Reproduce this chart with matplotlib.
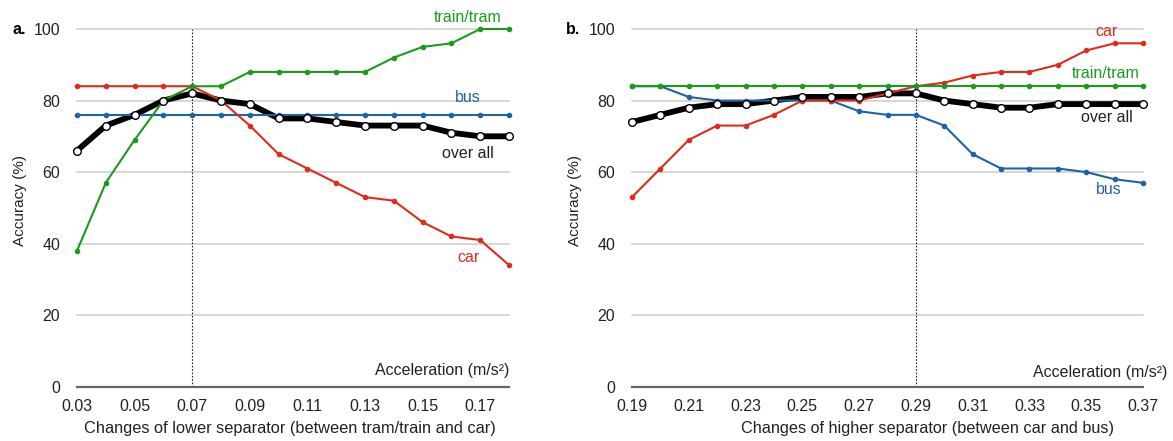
import matplotlib
matplotlib.use("Agg")
import matplotlib.pyplot as plt

plt.rcParams['font.family'] = ['Liberation Sans', 'DejaVu Sans']

# panel a: lower separator
x_a = [0.03, 0.04, 0.05, 0.06, 0.07, 0.08, 0.09, 0.10, 0.11, 0.12, 0.13, 0.14, 0.15, 0.16, 0.17, 0.18]
car_a = [84, 84, 84, 84, 84, 80, 73, 65, 61, 57, 53, 52, 46, 42, 41, 34]
train_a = [38, 57, 69, 80, 84, 84, 88, 88, 88, 88, 88, 92, 95, 96, 100, 100]
bus_a = [76] * 16
overall_a = [66, 73, 76, 80, 82, 80, 79, 75, 75, 74, 73, 73, 73, 71, 70, 70]
xticks_a = [0.03, 0.05, 0.07, 0.09, 0.11, 0.13, 0.15, 0.17]
sep_a = 0.07

# panel b: higher separator
x_b = [0.19, 0.20, 0.21, 0.22, 0.23, 0.24, 0.25, 0.26, 0.27, 0.28,
       0.29, 0.30, 0.31, 0.32, 0.33, 0.34, 0.35, 0.36, 0.37]
car_b = [53, 61, 69, 73, 73, 76, 80, 80, 80, 82, 84, 85, 87, 88, 88, 90, 94, 96, 96]
train_b = [84] * 19
bus_b = [84, 84, 81, 80, 80, 80, 80, 80, 77, 76, 76, 73, 65, 61, 61, 61, 60, 58, 57]
overall_b = [74, 76, 78, 79, 79, 80, 81, 81, 81, 82, 82, 80, 79, 78, 78, 79, 79, 79, 79]
xticks_b = [0.19, 0.21, 0.23, 0.25, 0.27, 0.29, 0.31, 0.33, 0.35, 0.37]
sep_b = 0.29

RED = '#dd2c1c'
GREEN = '#1a9b1a'
BLUE = '#1f62a6'

W, H = 1173, 441
fig = plt.figure(figsize=(W / 100, H / 100), dpi=100)


def px(x, y):
    return x / W, 1 - y / H


def setup(ax, xs, ticks, sep):
    ax.set_xlim(xs[0], xs[-1])
    ax.set_ylim(0, 100)
    for s in ['top', 'right', 'left']:
        ax.spines[s].set_visible(False)
    ax.spines['bottom'].set_color('#666666')
    ax.spines['bottom'].set_linewidth(1.6)
    ax.set_yticks([0, 20, 40, 60, 80, 100])
    ax.set_xticks(ticks)
    ax.set_xticklabels(['%.2f' % t for t in ticks])
    ax.tick_params(axis='y', length=0, pad=12, labelsize=11.5, colors='#222222')
    ax.tick_params(axis='x', length=0, pad=9, labelsize=11.5, colors='#222222')
    for g in [20, 40, 60, 80, 100]:
        ax.axhline(g, color='#cccccc', lw=1.1, zorder=0, clip_on=False)
    ax.plot([sep, sep], [0, 100], color='#222222', ls=(0, (1.5, 1.5)), lw=0.8, zorder=1)


def draw(ax, xs, car, train, bus, overall):
    ax.plot(xs, overall, color='black', lw=4.2, zorder=2, clip_on=False)
    ax.plot(xs, bus, color=BLUE, lw=1.5, marker='o', ms=3, zorder=3, clip_on=False)
    ax.plot(xs, car, color=RED, lw=1.5, marker='o', ms=3, zorder=4, clip_on=False)
    ax.plot(xs, train, color=GREEN, lw=1.5, marker='o', ms=3, zorder=5, clip_on=False)
    ax.plot(xs, overall, ls='none', marker='o', ms=5.5, mfc='white', mec='black',
            mew=1.0, zorder=6, clip_on=False)


ax1 = fig.add_axes([77 / W, 54.3 / H, 432 / W, 357.7 / H])
setup(ax1, x_a, xticks_a, sep_a)
draw(ax1, x_a, car_a, train_a, bus_a, overall_a)

ax2 = fig.add_axes([632 / W, 54.3 / H, 511 / W, 357.7 / H])
setup(ax2, x_b, xticks_b, sep_b)
draw(ax2, x_b, car_b, train_b, bus_b, overall_b)

lab = dict(fontsize=11.5, ha='center', va='center')
# panel a series labels
fig.text(*px(468, 17), 'train/tram', color=GREEN, **lab)
fig.text(*px(468, 97), 'bus', color=BLUE, **lab)
fig.text(*px(468, 153), 'over all', color='#222222', **lab)
fig.text(*px(468, 257), 'car', color=RED, **lab)
# panel b series labels
fig.text(*px(1107, 31), 'car', color=RED, **lab)
fig.text(*px(1106, 73), 'train/tram', color=GREEN, **lab)
fig.text(*px(1107, 118), 'over all', color='#222222', **lab)
fig.text(*px(1109, 190), 'bus', color=BLUE, **lab)

# panel letters
fig.text(*px(12, 30), 'a.', fontsize=11.5, fontweight='bold', ha='left', va='center')
fig.text(*px(566, 30), 'b.', fontsize=11.5, fontweight='bold', ha='left', va='center')

# axis titles
fig.text(*px(20, 200), 'Accuracy (%)', fontsize=11, rotation=90, ha='center', va='center', color='#222222')
fig.text(*px(575, 200), 'Accuracy (%)', fontsize=11, rotation=90, ha='center', va='center', color='#222222')
fig.text(*px(509, 371), 'Acceleration (m/s²)', fontsize=11.5, ha='right', va='center', color='#222222')
fig.text(*px(1167, 372), 'Acceleration (m/s²)', fontsize=11.5, ha='right', va='center', color='#222222')
fig.text(*px(290, 428), 'Changes of lower separator (between tram/train and car)', fontsize=11.8,
         ha='center', va='center', color='#222222')
fig.text(*px(927, 428), 'Changes of higher separator (between car and bus)', fontsize=11.7,
         ha='center', va='center', color='#222222')

fig.savefig('out.png', dpi=100)
